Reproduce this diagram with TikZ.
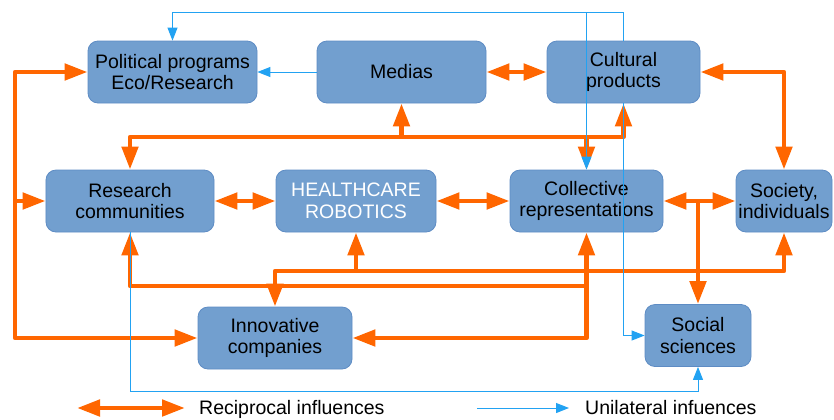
\documentclass[tikz,border=0pt]{standalone}
\usepackage{fontspec}
\setmainfont{Liberation Sans}
\usetikzlibrary{arrows.meta}
\definecolor{boxblue}{HTML}{729FCF}
\definecolor{boxline}{HTML}{5E8CC4}
\definecolor{recorange}{HTML}{FF6600}
\definecolor{unilblue}{HTML}{22A2F2}

\begin{document}
\begin{tikzpicture}[x=1bp,y=-1bp,
  box/.style={draw=boxline,line width=0.8bp,fill=boxblue,rounded corners=10bp,
    minimum height=62bp,inner sep=0pt,align=center,
    font=\fontsize{19.5bp}{21.5bp}\selectfont},
  recip/.style={recorange,line width=4.8bp,line join=round},
  recipone/.style={recip,-{Triangle[length=23bp,width=16bp]}},
  reciptwo/.style={recip,{Triangle[length=23bp,width=16bp]}-{Triangle[length=23bp,width=16bp]}},
  unil/.style={unilblue,line width=1bp,-{Triangle[length=13bp,width=10bp]}},
  legend/.style={anchor=base west,inner sep=0pt,font=\fontsize{19.5bp}{21.5bp}\selectfont}]
\useasboundingbox (0,0) rectangle (834,419);

% boxes
\node[box,minimum width=169bp] (pol) at (172.5,72) {Political programs\\Eco/Research};
\node[box,minimum width=169bp] (med) at (401.5,72) {Medias};
\node[box,minimum width=153bp] (cult) at (623.5,72) {Cultural\\products};
\node[box,minimum width=168bp] (res) at (130,201) {Research\\communities};
\node[box,minimum width=160bp,text=white] (hr) at (356,201) {HEALTHCARE\\ROBOTICS};
\node[box,minimum width=153bp] (coll) at (586.5,201) {Collective\\representations};
\node[box,minimum width=96bp] (soc) at (784,201) {Society,\\individuals};
\node[box,minimum width=154bp] (inn) at (275,338) {Innovative\\companies};
\node[box,minimum width=106bp] (ss) at (698,335.5) {Social\\sciences};

% bus lines
\coordinate (busA) at (0,137);
\coordinate (busB) at (0,271);
\coordinate (busC) at (0,286);
\coordinate (busD) at (15,0);
\coordinate (topline) at (0,12);
\coordinate (botline) at (0,391);

% reciprocal influences
\draw[reciptwo] (med.east) -- (cult.west);
\draw[reciptwo] (res.east) -- (hr.west);
\draw[reciptwo] (hr.east) -- (coll.west);
\draw[reciptwo] (coll.east) -- (soc.west);
\draw[recipone] (coll.east -| ss.north) -- (ss.north);
\draw[reciptwo] (cult.east) -| (soc.north);
\draw[reciptwo] (res.north) |- (busA -| cult.south) -- (cult.south);
\draw[recipone] (busA -| med.south) -- (med.south);
\draw[recipone] (busA -| coll.north) -- (coll.north);
\draw[reciptwo] (inn.north) |- (busB -| soc.south) -- (soc.south);
\draw[recipone] (busB -| hr.south) -- (hr.south);
\draw[reciptwo] (res.south) |- (busC -| coll.south) -- (coll.south);
\draw[recipone] (busC -| coll.south) |- (inn.east);
\draw[reciptwo] (pol.west) -| (busD |- inn.west) -- (inn.west);
\draw[recipone] (busD |- res.west) -- (res.west);

% unilateral influences
\draw[unil] (med.west) -- (pol.east);
\draw[unil] (cult.north) |- (topline -| pol.north) -- (pol.north);
\draw[unil] (cult.north) |- (topline -| coll.north) -- (coll.north);
\draw[unil] (cult.south) |- (ss.west);
\draw[unil] (res.south) |- (botline -| ss.south) -- (ss.south);

% legend
\coordinate (recA) at (77,408);
\coordinate (recB) at (185,408);
\draw[reciptwo] (recA) -- (recB);
\node[legend] (reclabel) at (199,414) {Reciprocal influences};
\coordinate (uniA) at (477,408);
\coordinate (uniB) at (569,408);
\draw[unil] (uniA) -- (uniB);
\node[legend] (unilabel) at (585,414) {Unilateral infuences};
\end{tikzpicture}
\end{document}
